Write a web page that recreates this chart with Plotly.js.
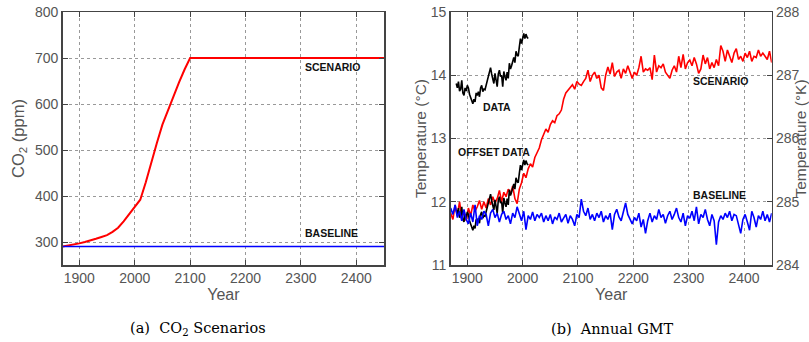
<!DOCTYPE html>
<html>
<head>
<meta charset="utf-8">
<script src="https://cdn.plot.ly/plotly-3.0.1.min.js"></script>
<style>html,body{margin:0;padding:0;background:#fff;}#chart{width:809px;height:342px;}</style>
</head>
<body>
<div id="chart"></div>
<script>
// ---- (a) CO2 scenarios ----
const co2Years = [1870,1880,1890,1900,1910,1920,1930,1940,1950,1960,1970,1980,1990,2000,2010,2020,2030,2040,2050,2060,2070,2080,2090,2100,2450];
const co2Scenario = [290,292,294,297,300,303,307,311,315,322,331,345,360,376,392,430,475,515,555,587,617,647,675,700,700];
const co2BaselineYears = [1870,2450];
const co2Baseline = [290,290];

// ---- (b) Annual GMT ----
const dataYears = [1880,1882,1884,1886,1888,1890,1892,1894,1896,1898,
  1900,1902,1904,1906,1908,1910,1912,1914,1916,1918,
  1920,1922,1924,1926,1928,1930,1932,1934,1936,1938,
  1940,1942,1944,1946,1948,1950,1952,1954,1956,1958,
  1960,1962,1964,1966,1968,1970,1972,1974,1976,1978,
  1980,1982,1984,1986,1988,1990,1992,1994,1996,1998,
  2000,2002,2004,2006,2008,2010];
const dataTemp = [13.87,13.80,13.90,13.75,13.78,13.92,13.72,13.68,13.80,13.75,
  13.84,13.80,13.70,13.65,13.58,13.55,13.62,13.58,13.72,13.68,
  13.74,13.66,13.80,13.84,13.74,13.78,13.77,13.85,13.92,14.00,
  14.08,14.12,14.02,13.95,13.87,14.03,13.95,13.82,14.02,14.08,
  13.98,14.00,13.82,14.06,13.98,13.92,14.05,13.95,14.19,14.10,
  14.15,14.22,14.28,14.20,14.38,14.32,14.30,14.45,14.58,14.50,
  14.62,14.66,14.58,14.65,14.60,14.58];
const offsetTemp = [11.87,11.80,11.90,11.75,11.78,11.92,11.72,11.68,11.80,11.75,
  11.84,11.80,11.70,11.65,11.58,11.55,11.62,11.58,11.72,11.68,
  11.74,11.66,11.80,11.84,11.74,11.78,11.77,11.85,11.92,12.00,
  12.08,12.12,12.02,11.95,11.87,12.03,11.95,11.82,12.02,12.08,
  11.98,12.00,11.82,12.06,11.98,11.92,12.05,11.95,12.19,12.10,
  12.15,12.22,12.28,12.20,12.38,12.32,12.30,12.45,12.58,12.50,
  12.62,12.66,12.58,12.65,12.60,12.58];

const simYears = [1870,1874,1878,1882,1886,1890,1894,1898,1902,1906,
  1910,1914,1918,1922,1926,1930,1934,1938,1942,1946,
  1950,1954,1958,1962,1966,1970,1974,1978,1982,1986,
  1990,1994,1998,2002,2006,2010,2014,2018,2022,2026,
  2030,2034,2038,2042,2046,2050,2054,2058,2062,2066,
  2070,2074,2078,2082,2086,2090,2094,2098,2102,2106,
  2110,2114,2118,2122,2126,2130,2134,2138,2142,2146,
  2150,2154,2158,2162,2166,2170,2174,2178,2182,2186,
  2190,2194,2198,2202,2206,2210,2214,2218,2222,2226,
  2230,2234,2238,2242,2246,2250,2254,2258,2262,2266,
  2270,2274,2278,2282,2286,2290,2294,2298,2302,2306,
  2310,2314,2318,2322,2326,2330,2334,2338,2342,2346,
  2350,2354,2358,2362,2366,2370,2374,2378,2382,2386,
  2390,2394,2398,2402,2406,2410,2414,2418,2422,2426,
  2430,2434,2438,2442,2446,2450];
const scenarioTemp = [11.82,11.72,11.95,11.78,12.00,11.75,11.85,11.70,11.90,11.78,
  11.95,11.85,11.92,12.02,11.88,12.00,11.90,12.05,11.95,12.08,
  11.98,12.05,12.18,12.00,12.15,12.08,12.20,12.12,12.25,12.05,
  11.97,12.20,12.30,12.45,12.38,12.52,12.60,12.55,12.70,12.78,
  12.85,12.98,13.07,13.15,13.10,13.22,13.28,13.25,13.36,13.39,
  13.45,13.62,13.72,13.76,13.80,13.85,13.78,13.90,13.86,13.84,
  13.90,13.95,14.08,13.90,14.00,14.05,13.95,14.00,13.80,13.76,
  14.00,14.13,14.02,14.20,13.98,14.05,14.08,13.95,14.10,14.03,
  14.15,14.05,13.95,14.05,14.00,14.12,14.30,14.05,14.10,14.08,
  14.12,13.93,14.32,14.05,14.15,14.12,14.18,14.05,14.00,13.95,
  14.08,14.15,14.05,14.30,14.12,14.33,14.10,14.20,14.24,14.15,
  14.28,14.18,14.03,14.10,14.32,14.18,14.28,14.10,14.20,14.12,
  14.25,14.15,14.47,14.38,14.22,14.40,14.30,14.20,14.35,14.42,
  14.25,14.30,14.22,14.35,14.28,14.38,14.22,14.30,14.28,14.40,
  14.30,14.35,14.30,14.25,14.38,14.20];
const baselineTemp = [11.90,11.80,11.95,11.75,11.85,11.70,11.88,11.72,11.65,11.82,
  11.68,11.95,11.62,11.78,11.72,11.85,11.80,11.62,11.82,11.88,
  11.75,11.82,11.68,11.80,11.85,11.72,11.78,11.65,11.82,11.75,
  11.92,11.80,11.70,11.85,11.56,11.78,11.72,11.84,11.70,11.80,
  11.75,11.82,11.68,11.78,11.70,11.80,11.65,11.76,11.72,11.82,
  11.68,11.74,11.80,11.66,11.78,11.72,11.62,11.80,11.75,12.04,
  11.85,11.78,11.90,11.72,11.80,11.70,11.82,11.75,11.85,11.68,
  11.78,11.72,11.82,11.56,11.80,11.88,11.76,11.70,11.85,11.98,
  11.80,11.72,11.65,11.75,11.70,11.82,11.60,11.72,11.50,11.70,
  11.82,11.68,11.78,11.72,11.88,11.75,11.80,11.66,11.78,11.85,
  11.72,11.80,11.90,11.75,11.68,11.82,11.62,11.78,11.74,11.85,
  11.70,11.92,11.65,11.80,11.75,11.88,11.72,11.62,11.80,11.70,
  11.32,11.68,11.78,11.72,11.82,11.75,11.85,11.70,11.80,11.78,
  11.62,11.50,11.72,11.80,11.68,11.55,11.85,11.75,11.60,11.78,
  11.72,11.85,11.70,11.80,11.68,11.82];

const yearTicks = [1900,2000,2100,2200,2300,2400];
const co2Ticks = [300,400,500,600,700,800];
const tempTicksC = [11,12,13,14,15];
const tempTicksK = [284,285,286,287,288];

const FONT = 'Liberation Sans, Arial, sans-serif';
const tickFont = {family: FONT, size: 14, color: '#555'};
const yearFont = {family: FONT, size: 16, color: '#555'};
const tempTitleFont = {family: FONT, size: 15.5, color: '#555'};

const traces = [
  {x: co2Years, y: co2Scenario, xaxis: 'x', yaxis: 'y', mode: 'lines', line: {color: '#ff0000', width: 2}},
  {x: co2BaselineYears, y: co2Baseline, xaxis: 'x', yaxis: 'y', mode: 'lines', line: {color: '#0000ff', width: 1.5}},
  {x: dataYears, y: dataTemp, xaxis: 'x2', yaxis: 'y2', mode: 'lines', line: {color: '#000', width: 1.6}},
  {x: simYears, y: scenarioTemp, xaxis: 'x2', yaxis: 'y2', mode: 'lines', line: {color: '#ff0000', width: 1.6}},
  {x: dataYears, y: offsetTemp, xaxis: 'x2', yaxis: 'y2', mode: 'lines', line: {color: '#000', width: 1.6}},
  {x: simYears, y: baselineTemp, xaxis: 'x2', yaxis: 'y2', mode: 'lines', line: {color: '#0000ff', width: 1.6}},
  {x: [1870], y: [284], xaxis: 'x2', yaxis: 'y3', mode: 'markers', marker: {opacity: 0, size: 1}, hoverinfo: 'skip'}
];

const axBase = {
  showline: true, linecolor: '#444', linewidth: 1.5, mirror: 'ticks',
  ticks: 'inside', ticklen: 5, tickcolor: '#444', tickfont: tickFont,
  showgrid: true, gridcolor: '#999', griddash: 'dot', gridwidth: 1,
  zeroline: false, automargin: false
};

const layout = {
  width: 809, height: 342,
  margin: {l: 0, r: 0, t: 12, b: 77},
  paper_bgcolor: '#fff', plot_bgcolor: '#fff',
  showlegend: false,
  xaxis: Object.assign({}, axBase, {domain: [62.7/809, 384/809], range: [1870, 2450], tickvals: yearTicks, anchor: 'y',
    title: {text: 'Year', font: yearFont, standoff: 0}}),
  yaxis: Object.assign({}, axBase, {domain: [0, 1], range: [250, 800], tickvals: co2Ticks, anchor: 'x',
    title: {text: 'CO<sub>2</sub> (ppm)', font: {family: FONT, size: 16.5, color: '#555'}, standoff: 6}}),
  xaxis2: Object.assign({}, axBase, {domain: [450.7/809, 771.7/809], range: [1870, 2450], tickvals: yearTicks, anchor: 'y2',
    title: {text: 'Year', font: yearFont, standoff: 0}}),
  yaxis2: Object.assign({}, axBase, {domain: [0, 1], range: [11, 15], tickvals: tempTicksC, anchor: 'x2', mirror: true,
    title: {text: 'Temperature (°C)', font: tempTitleFont, standoff: 0}}),
  yaxis3: Object.assign({}, axBase, {range: [284, 288], tickvals: tempTicksK, anchor: 'x2', overlaying: 'y2', side: 'right',
    showgrid: false, mirror: false,
    title: {text: 'Temperature (°K)', font: tempTitleFont, standoff: 6}}),
  annotations: [
    {x: 2303, y: 681, xref: 'x', yref: 'y', text: '<b>SCENARIO</b>', showarrow: false, xanchor: 'left', yanchor: 'middle', font: {family: FONT, size: 10.5, color: '#111'}},
    {x: 2303, y: 320, xref: 'x', yref: 'y', text: '<b>BASELINE</b>', showarrow: false, xanchor: 'left', yanchor: 'middle', font: {family: FONT, size: 10.5, color: '#111'}},
    {x: 1924, y: 13.5, xref: 'x2', yref: 'y2', text: '<b>DATA</b>', showarrow: false, xanchor: 'left', yanchor: 'middle', font: {family: FONT, size: 10.5, color: '#111'}},
    {x: 1879, y: 12.79, xref: 'x2', yref: 'y2', text: '<b>OFFSET DATA</b>', showarrow: false, xanchor: 'left', yanchor: 'middle', font: {family: FONT, size: 10.5, color: '#111'}},
    {x: 2305, y: 13.91, xref: 'x2', yref: 'y2', text: '<b>SCENARIO</b>', showarrow: false, xanchor: 'left', yanchor: 'middle', font: {family: FONT, size: 10.5, color: '#111'}},
    {x: 2305, y: 12.11, xref: 'x2', yref: 'y2', text: '<b>BASELINE</b>', showarrow: false, xanchor: 'left', yanchor: 'middle', font: {family: FONT, size: 10.5, color: '#111'}},
    {x: 198/809, y: (265-329)/253, xref: 'paper', yref: 'paper', text: '(a)  CO<sub>2</sub> Scenarios', showarrow: false, xanchor: 'center', yanchor: 'middle', font: {family: 'DejaVu Serif, serif', size: 14.5, color: '#000'}},
    {x: 612/809, y: (265-329)/253, xref: 'paper', yref: 'paper', text: '(b)  Annual GMT', showarrow: false, xanchor: 'center', yanchor: 'middle', font: {family: 'DejaVu Serif, serif', size: 14.5, color: '#000'}}
  ]
};

Plotly.newPlot('chart', traces, layout, {staticPlot: true, displayModeBar: false});
</script>
</body>
</html>
